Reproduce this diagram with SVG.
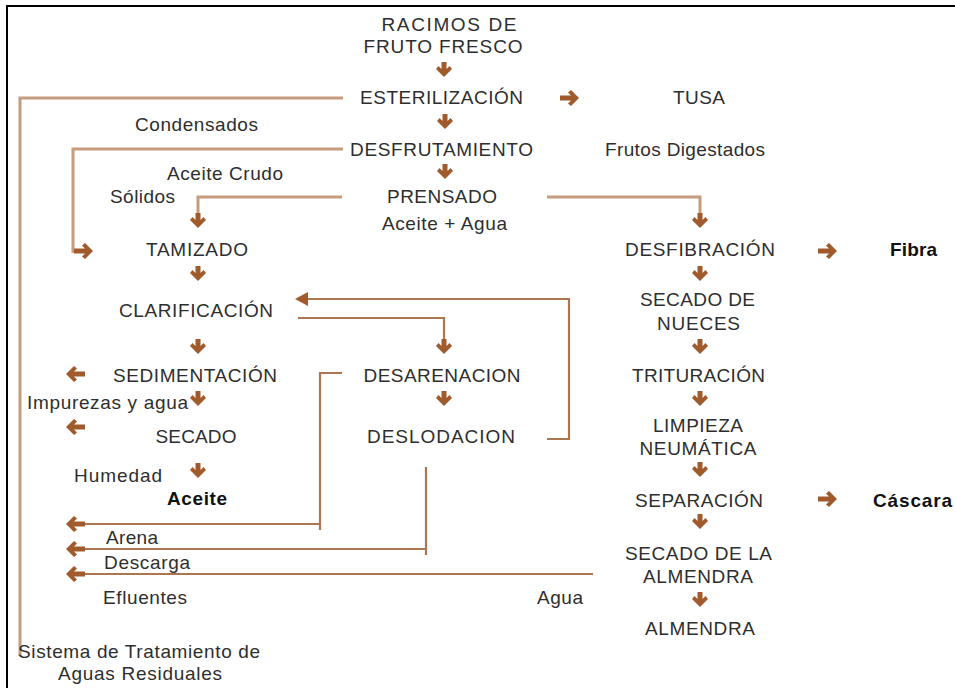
<svg xmlns="http://www.w3.org/2000/svg" xmlns:xlink="http://www.w3.org/1999/xlink" width="955" height="688" viewBox="0 0 955 688">
<defs>
<style>
text{font-family:"Liberation Sans",Arial,sans-serif;font-size:19px;fill:#2e2e2e;text-anchor:middle}
text.b{font-weight:bold;fill:#111}
.l1{fill:none;stroke:#c59c7e;stroke-width:3}
.l2{fill:none;stroke:#ab7650;stroke-width:2.2}
.ar{fill:#a05a2c}
</style>
<path id="ad" class="ar" d="M-2.5,-16 V-9 L-5.5,-12 L-8,-9 L0,-1 L8,-9 L5.5,-12 L2.5,-9 V-16 Z"/>
<path id="ar" class="ar" d="M-20,-2.5 H-9 L-12,-5.5 L-9,-8 L-1,0 L-9,8 L-12,5.5 L-9,2.5 H-20 Z"/>
<path id="al" class="ar" d="M20,-2.5 H9 L12,-5.5 L9,-8 L1,0 L9,8 L12,5.5 L9,2.5 H20 Z"/>
</defs>
<rect width="955" height="688" fill="#fff"/>
<path d="M7,688 V6 H955" fill="none" stroke="#000" stroke-width="2"/>

<g id="connectors">
<path class="l1" d="M343,98 H20 V656"/>
<path class="l1" d="M343,149 H73 V253"/>
<path class="l1" d="M342,197 H198 V215"/>
<path class="l1" d="M547,197 H700 V215"/>
<path class="l2" d="M305,299 H569 V439 H547"/>
<polygon class="ar" points="295,299 308,292 308,306"/>
<path class="l2" d="M298,318 H444 V342"/>
<path class="l2" d="M342,373 H320 V530"/>
<path class="l2" d="M320,524 H83"/>
<path class="l2" d="M426,467 V555"/>
<path class="l2" d="M426,549 H83"/>
<path class="l2" d="M593,574 H83"/>
<use xlink:href="#ad" x="444" y="78"/>
<use xlink:href="#ad" x="445" y="130"/>
<use xlink:href="#ad" x="445" y="180"/>
<use xlink:href="#ad" x="198" y="229"/>
<use xlink:href="#ad" x="700" y="229"/>
<use xlink:href="#ad" x="198" y="282"/>
<use xlink:href="#ad" x="444" y="355"/>
<use xlink:href="#ad" x="198" y="355"/>
<use xlink:href="#ad" x="198" y="407"/>
<use xlink:href="#ad" x="444" y="407"/>
<use xlink:href="#ad" x="198" y="479"/>
<use xlink:href="#ad" x="700" y="282"/>
<use xlink:href="#ad" x="700" y="355"/>
<use xlink:href="#ad" x="700" y="407"/>
<use xlink:href="#ad" x="700" y="478"/>
<use xlink:href="#ad" x="700" y="530"/>
<use xlink:href="#ad" x="700" y="608"/>
<use xlink:href="#ar" x="580" y="98"/>
<use xlink:href="#ar" x="838" y="251"/>
<use xlink:href="#ar" x="838" y="499"/>
<use xlink:href="#ar" x="94" y="251"/>
<use xlink:href="#al" x="65" y="374"/>
<use xlink:href="#al" x="65" y="427"/>
<use xlink:href="#al" x="65" y="524"/>
<use xlink:href="#al" x="65" y="549"/>
<use xlink:href="#al" x="65" y="574"/>
</g>

<g id="racimos"><text x="449" y="31" textLength="135">RACIMOS DE</text><text x="443" y="53" textLength="159">FRUTO FRESCO</text></g>
<g id="esterilizacion"><text x="441.5" y="104" textLength="163">ESTERILIZACIÓN</text></g>
<g id="tusa"><text x="699" y="104" textLength="52">TUSA</text></g>
<g id="condensados"><text x="196.5" y="131" textLength="123">Condensados</text></g>
<g id="desfrutamiento"><text x="441.5" y="156" textLength="183">DESFRUTAMIENTO</text></g>
<g id="frutos"><text x="685" y="156" textLength="160">Frutos Digestados</text></g>
<g id="aceite-crudo"><text x="225" y="180" textLength="116">Aceite Crudo</text></g>
<g id="solidos"><text x="142.5" y="203" textLength="65">Sólidos</text></g>
<g id="prensado"><text x="442" y="203" textLength="110">PRENSADO</text></g>
<g id="aceite-agua"><text x="444.5" y="230" textLength="125">Aceite + Agua</text></g>
<g id="tamizado"><text x="197" y="256" textLength="102">TAMIZADO</text></g>
<g id="desfibracion"><text x="700" y="256" textLength="150">DESFIBRACIÓN</text></g>
<g id="fibra"><text class="b" x="913.5" y="256" textLength="47">Fibra</text></g>
<g id="secado-nueces"><text x="697.5" y="306" textLength="115">SECADO DE</text><text x="698.5" y="330" textLength="83">NUECES</text></g>
<g id="clarificacion"><text x="196" y="317" textLength="154">CLARIFICACIÓN</text></g>
<g id="sedimentacion"><text x="195" y="382" textLength="164">SEDIMENTACIÓN</text></g>
<g id="desarenacion"><text x="442" y="382" textLength="157">DESARENACION</text></g>
<g id="trituracion"><text x="698.5" y="382" textLength="133">TRITURACIÓN</text></g>
<g id="impurezas"><text x="107.5" y="409" textLength="161">Impurezas y agua</text></g>
<g id="secado"><text x="196" y="443" textLength="81">SECADO</text></g>
<g id="deslodacion"><text x="441" y="443" textLength="148">DESLODACION</text></g>
<g id="limpieza"><text x="698" y="432" textLength="90">LIMPIEZA</text><text x="698" y="455" textLength="117">NEUMÁTICA</text></g>
<g id="humedad"><text x="118" y="482" textLength="88">Humedad</text></g>
<g id="aceite"><text class="b" x="197" y="505" textLength="60">Aceite</text></g>
<g id="separacion"><text x="699" y="507" textLength="128">SEPARACIÓN</text></g>
<g id="cascara"><text class="b" x="912.5" y="507" textLength="79">Cáscara</text></g>
<g id="arena"><text x="132" y="544" textLength="52">Arena</text></g>
<g id="descarga"><text x="147" y="569" textLength="86">Descarga</text></g>
<g id="secado-almendra"><text x="698.5" y="560" textLength="147">SECADO DE LA</text><text x="698" y="583" textLength="110">ALMENDRA</text></g>
<g id="efluentes"><text x="145" y="604" textLength="84">Efluentes</text></g>
<g id="agua"><text x="560" y="604" textLength="46">Agua</text></g>
<g id="almendra"><text x="700" y="635" textLength="110">ALMENDRA</text></g>
<g id="sistema"><text x="139" y="658" textLength="242">Sistema de Tratamiento de</text><text x="140" y="680" textLength="164">Aguas Residuales</text></g>
</svg>
